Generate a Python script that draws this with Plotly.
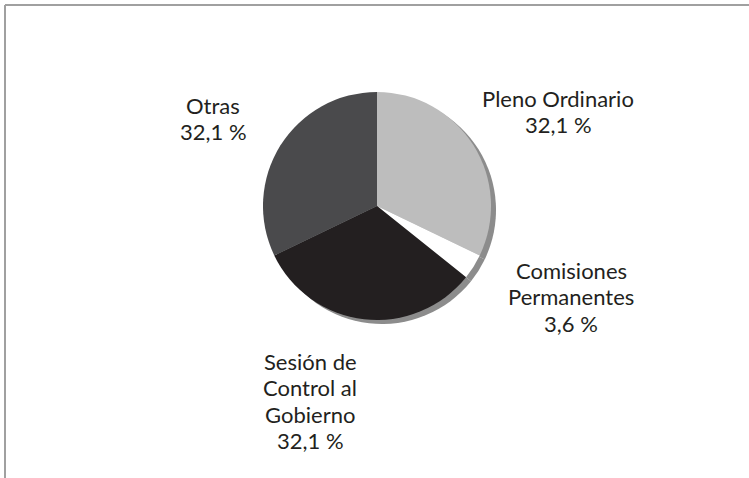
import plotly.graph_objects as go

# data
categories = ["Pleno Ordinario", "Comisiones Permanentes", "Sesión de Control al Gobierno", "Otras"]
label_lines = [["Pleno Ordinario"], ["Comisiones", "Permanentes"],
               ["Sesión de", "Control al", "Gobierno"], ["Otras"]]
shares = [32.1, 3.6, 32.1, 32.1]
share_text = ["32,1 %", "3,6 %", "32,1 %", "32,1 %"]

SLICE_COLORS = ["#bdbdbd", "#ffffff", "#231f20", "#4a4a4c"]
SHADOW = "#8c8c8c"
TEXT = "#231f20"
FRAME = "#a0a0a0"
FONT = "Lato"
W, H = 749, 478

# pie geometry in pixels (centre / radius), turned into paper domains
CX, CY, R = 377, 206, 114
SHIFT_X, SHIFT_Y = 5, 4
LINE_GAP = 26.5


def dom(cx, cy, r):
    return dict(x=[(cx - r) / W, (cx + r) / W], y=[(H - cy - r) / H, (H - cy + r) / H])


fig = go.Figure()

# drop shadow
fig.add_trace(go.Pie(
    labels=categories, values=shares, sort=False, direction="clockwise", rotation=0,
    marker=dict(colors=[SHADOW] * len(shares), line=dict(width=0)),
    textinfo="none", hoverinfo="skip", showlegend=False,
    domain=dom(CX + SHIFT_X, CY + SHIFT_Y, R),
))
fig.add_trace(go.Pie(
    labels=categories, values=shares, sort=False, direction="clockwise", rotation=0,
    marker=dict(colors=SLICE_COLORS, line=dict(width=0)),
    textinfo="none", showlegend=False,
    domain=dom(CX, CY, R),
))

# outside labels: (centre x, baseline of first line)
label_pos = [(558, 105), (571, 277), (310, 368), (213, 112)]
for lines, pct, (x, y0) in zip(label_lines, share_text, label_pos):
    for i, line in enumerate(lines + [pct]):
        y = y0 + i * LINE_GAP - 7
        fig.add_annotation(
            x=x / W, y=1 - y / H, xref="paper", yref="paper",
            text=line, showarrow=False, xanchor="center", yanchor="middle",
            font=dict(family=FONT, size=22, color=TEXT),
        )

# frame: top and left rules
fig.add_shape(type="line", xref="paper", yref="paper", x0=5 / W, x1=1, y0=1 - 5 / H, y1=1 - 5 / H,
              line=dict(color=FRAME, width=2))
fig.add_shape(type="line", xref="paper", yref="paper", x0=5 / W, x1=5 / W, y0=0, y1=1 - 5 / H,
              line=dict(color=FRAME, width=2))

fig.update_layout(
    width=W, height=H, margin=dict(l=0, r=0, t=0, b=0),
    paper_bgcolor="white", plot_bgcolor="white",
)

fig.write_html("out.html", config={"displayModeBar": False},
               post_script="document.body.style.margin='0px';")
